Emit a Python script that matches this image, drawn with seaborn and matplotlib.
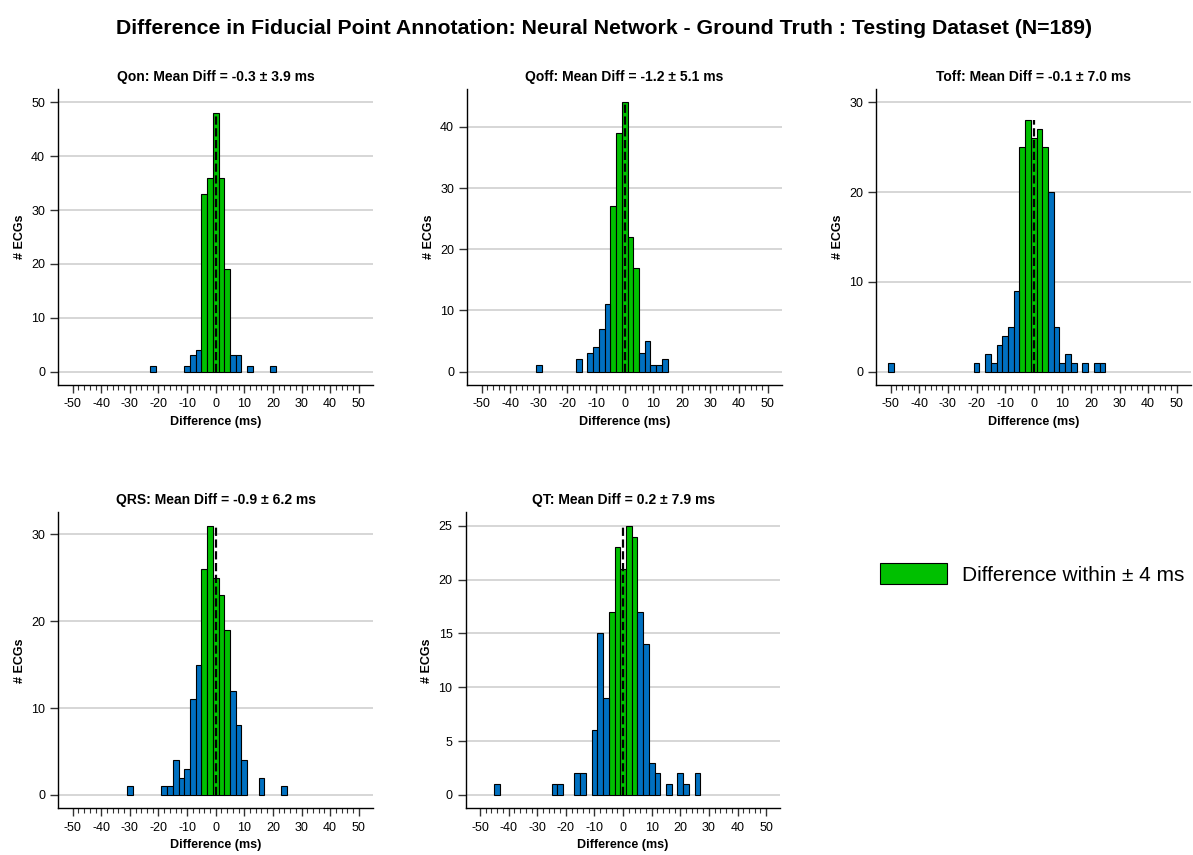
import numpy as np
import pandas as pd
import matplotlib
matplotlib.use("Agg")
import matplotlib.pyplot as plt
import seaborn as sns
from matplotlib.patches import Patch
from matplotlib.ticker import MultipleLocator

# values (2 ms bins, centre -> count)
leads = ["Qon", "Qoff", "Toff", "QRS", "QT"]
mean_diff = [-0.3, -1.2, -0.1, -0.9, 0.2]
sd_diff = [3.9, 5.1, 7.0, 6.2, 7.9]

qon_ms = [-22, -10, -8, -6, -4, -2, 0, 2, 4, 6, 8, 12, 20]
qon_n = [1, 1, 3, 4, 33, 36, 48, 36, 19, 3, 3, 1, 1]

qoff_ms = [-30, -16, -12, -10, -8, -6, -4, -2, 0, 2, 4, 6, 8, 10, 12, 14]
qoff_n = [1, 2, 3, 4, 7, 11, 27, 39, 44, 22, 17, 3, 5, 1, 1, 2]

toff_ms = [-50, -20, -16, -14, -12, -10, -8, -6, -4, -2, 0, 2, 4, 6, 8, 10, 12, 14, 18, 22, 24]
toff_n = [1, 1, 2, 1, 3, 4, 5, 9, 25, 28, 26, 27, 25, 20, 5, 1, 2, 1, 1, 1, 1]

qrs_ms = [-30, -18, -16, -14, -12, -10, -8, -6, -4, -2, 0, 2, 4, 6, 8, 10, 16, 24]
qrs_n = [1, 1, 1, 4, 2, 3, 11, 15, 26, 31, 25, 23, 19, 12, 8, 4, 2, 1]

qt_ms = [-44, -24, -22, -16, -14, -10, -8, -6, -4, -2, 0, 2, 4, 6, 8, 10, 12, 16, 20, 22, 26]
qt_n = [1, 1, 1, 2, 2, 6, 15, 9, 17, 23, 21, 25, 24, 17, 14, 3, 2, 1, 2, 1, 2]

centres = [qon_ms, qoff_ms, toff_ms, qrs_ms, qt_ms]
counts = [qon_n, qoff_n, toff_n, qrs_n, qt_n]
y_top = [50, 44, 30, 31, 25]
y_step = [10, 10, 10, 10, 5]

sns.set_style("white")
plt.rcParams['font.family'] = ['Liberation Sans', 'DejaVu Sans']
plt.rcParams['axes.unicode_minus'] = False
for key in ['text.color', 'axes.labelcolor', 'xtick.color', 'ytick.color']:
    plt.rcParams[key] = 'black'

BLUE = "#0070c0"
GREEN = "#00c000"

fig = plt.figure(figsize=(11.93, 8.55), dpi=100)

w, h = 0.2638, 0.3462
positions = [
    [0.0489, 0.5497, w, h],
    [0.3917, 0.5497, w, h],
    [0.7346, 0.5497, w, h],
    [0.0489, 0.0546, w, h],
    [0.3904, 0.0546, w, h],
]

for i, lead in enumerate(leads):
    ax = fig.add_axes(positions[i])
    df = pd.DataFrame({"ms": centres[i], "n": counts[i]})
    df["band"] = np.where(df["ms"].abs() <= 4, "in", "out")

    sns.histplot(data=df, x="ms", weights="n", hue="band",
                 binwidth=2, binrange=(-51, 51),
                 palette={"in": GREEN, "out": BLUE}, multiple="layer",
                 alpha=1, edgecolor="black", linewidth=0.8,
                 legend=False, ax=ax)
    # drop the empty bins so they don't leave a line at zero
    for p in list(ax.patches):
        if p.get_height() == 0:
            p.remove()

    ax.vlines(0, 0, max(counts[i]), colors="black", linestyles="--",
              linewidth=1.6, zorder=5)

    top = y_top[i]
    ax.set_ylim(-0.05 * top, 1.05 * top)
    ax.set_xlim(-55, 55)
    ax.set_xticks(range(-50, 51, 10))
    ax.set_xticks(np.arange(-50, 51, 2), minor=True)
    ax.yaxis.set_major_locator(MultipleLocator(y_step[i]))

    ax.yaxis.grid(True, color="#d0d0d0", linewidth=1.2)
    ax.xaxis.grid(False)
    ax.set_axisbelow(True)

    ax.tick_params(axis="x", which="major", length=6, width=1,
                   direction="out", labelsize=9, bottom=True, color="#333333")
    ax.tick_params(axis="x", which="minor", length=3.5, width=0.8,
                   direction="out", bottom=True, color="#333333")
    ax.tick_params(axis="y", which="major", length=6, width=1,
                   direction="out", labelsize=9, left=True, color="#333333")

    sns.despine(ax=ax)
    for s in ["left", "bottom"]:
        ax.spines[s].set_color("black")
        ax.spines[s].set_linewidth(1.0)

    ax.set_title(f"{lead}: Mean Diff = {mean_diff[i]:.1f} \u00b1 {sd_diff[i]:.1f} ms",
                 fontsize=10, fontweight="bold")
    ax.set_xlabel("Difference (ms)", fontsize=9, fontweight="bold")
    ax.set_ylabel("# ECGs", fontsize=9, fontweight="bold")

fig.suptitle("Difference in Fiducial Point Annotation: Neural Network - Ground Truth : Testing Dataset (N=189)",
             fontsize=15.3, fontweight="bold", x=0.506, y=0.967, va="center")

handle = Patch(facecolor=GREEN, edgecolor="black", linewidth=0.8)
fig.legend([handle], ["Difference within \u00b1 4 ms"], loc="center left",
           bbox_to_anchor=(0.722, 0.3287), frameon=False, fontsize=15,
           handlelength=3.2, handleheight=1.2, handletextpad=0.72)

fig.savefig("out.png", dpi=100)
